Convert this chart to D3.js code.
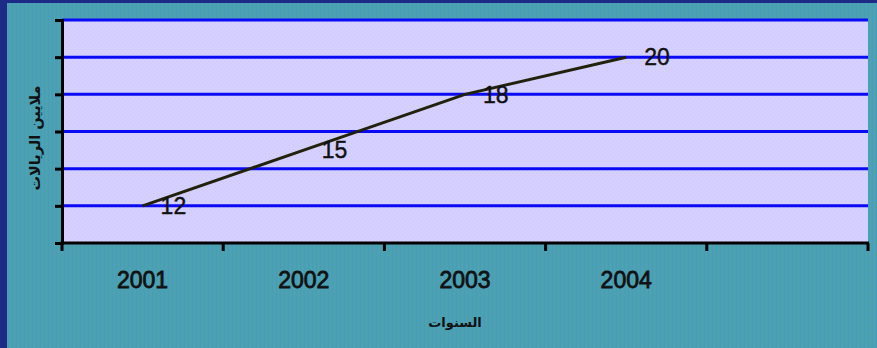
<!DOCTYPE html>
<html>
<head>
<meta charset="utf-8">
<script src="https://cdn.jsdelivr.net/npm/d3@7"></script>
<style>
  html, body { margin: 0; padding: 0; background: #4b9fb3; }
  svg { display: block; }
</style>
</head>
<body>
<svg id="chart" width="877" height="348"></svg>
<script>
// Revenue per year (millions of riyals)
const years = ["2001", "2002", "2003", "2004", ""];
const revenue = [12, 15, 18, 20];
const yTicks = [10, 12, 14, 16, 18, 20, 22];
const xTitle = "السنوات";
const yTitle = "ملايين الريالات";

const W = 877, H = 348;
const plot = { left: 62, right: 868, top: 20, bottom: 243 };

const svg = d3.select("#chart");

// dithered-looking teal backdrop
const defs = svg.append("defs");
const bgPat = defs.append("pattern").attr("id", "bgDither")
  .attr("width", 4).attr("height", 4).attr("patternUnits", "userSpaceOnUse");
bgPat.append("rect").attr("width", 4).attr("height", 4).attr("fill", "#4ba0b4");
bgPat.append("rect").attr("x", 0).attr("y", 0).attr("width", 1).attr("height", 1).attr("fill", "#3f9cc2");
bgPat.append("rect").attr("x", 2).attr("y", 2).attr("width", 1).attr("height", 1).attr("fill", "#5aa3a3");
bgPat.append("rect").attr("x", 2).attr("y", 0).attr("width", 1).attr("height", 1).attr("fill", "#56a4ac");
bgPat.append("rect").attr("x", 0).attr("y", 2).attr("width", 1).attr("height", 1).attr("fill", "#429bbb");

const plotPat = defs.append("pattern").attr("id", "plotDither")
  .attr("width", 4).attr("height", 4).attr("patternUnits", "userSpaceOnUse");
plotPat.append("rect").attr("width", 4).attr("height", 4).attr("fill", "#d3d2fe");
plotPat.append("rect").attr("x", 1).attr("y", 1).attr("width", 1).attr("height", 1).attr("fill", "#e0b8fa");
plotPat.append("rect").attr("x", 3).attr("y", 3).attr("width", 1).attr("height", 1).attr("fill", "#dcc0fb");

svg.append("rect").attr("width", W).attr("height", H).attr("fill", "url(#bgDither)");
// frame edges
svg.append("rect").attr("x", 0).attr("y", 0).attr("width", 7).attr("height", H).attr("fill", "#1d2b86");
svg.append("rect").attr("x", 0).attr("y", 0).attr("width", W).attr("height", 3).attr("fill", "#1d2b86");

const x = d3.scaleBand().domain(years).range([plot.left, plot.right]).padding(0);
const y = d3.scaleLinear().domain([10, 22]).range([plot.bottom, plot.top]);

// plot area
svg.append("rect")
  .attr("x", plot.left).attr("y", plot.top)
  .attr("width", plot.right - plot.left).attr("height", plot.bottom - plot.top)
  .attr("fill", "url(#plotDither)");

// horizontal gridlines
svg.append("g").selectAll("line")
  .data(yTicks.filter(v => v > 10))
  .join("line")
  .attr("x1", plot.left).attr("x2", plot.right)
  .attr("y1", d => y(d)).attr("y2", d => y(d))
  .attr("stroke", "#0a0af5").attr("stroke-width", 3);

// y axis (no labels)
const yAxis = svg.append("g")
  .attr("transform", `translate(${plot.left},0)`)
  .call(d3.axisLeft(y).tickValues(yTicks).tickSize(7).tickFormat(""));
yAxis.select(".domain").attr("stroke", "#000").attr("stroke-width", 3);
yAxis.selectAll(".tick line").attr("stroke", "#000").attr("stroke-width", 3);

// x axis: ticks at band boundaries
const boundaries = years.map(d => x(d)).concat([plot.right]);
const xAxisG = svg.append("g");
xAxisG.append("line")
  .attr("x1", plot.left - 1.5).attr("x2", plot.right + 1)
  .attr("y1", plot.bottom).attr("y2", plot.bottom)
  .attr("stroke", "#000").attr("stroke-width", 3);
xAxisG.selectAll("line.tk")
  .data(boundaries)
  .join("line").attr("class", "tk")
  .attr("x1", d => d).attr("x2", d => d)
  .attr("y1", plot.bottom).attr("y2", plot.bottom + 8)
  .attr("stroke", "#000").attr("stroke-width", 3);

// year labels
svg.append("g").selectAll("text")
  .data(years.filter(d => d !== ""))
  .join("text")
  .attr("x", d => x(d) + x.bandwidth() / 2)
  .attr("y", 288)
  .attr("text-anchor", "middle")
  .attr("font-family", "Liberation Sans, Arial, sans-serif")
  .attr("font-size", 23)
  .attr("fill", "#111")
  .attr("stroke", "#111").attr("stroke-width", 0.8)
  .text(d => d);

// revenue line
const pts = revenue.map((v, i) => [x(years[i]) + x.bandwidth() / 2, y(v)]);
svg.append("path")
  .attr("d", d3.line()(pts))
  .attr("fill", "none")
  .attr("stroke", "#22220c")
  .attr("stroke-width", 3);

// value labels
svg.append("g").selectAll("text")
  .data(revenue)
  .join("text")
  .attr("x", (d, i) => pts[i][0] + 18)
  .attr("y", (d, i) => pts[i][1])
  .attr("dy", "0.36em")
  .attr("font-family", "Liberation Sans, Arial, sans-serif")
  .attr("font-size", 23)
  .attr("fill", "#111")
  .attr("stroke", "#111").attr("stroke-width", 0.4)
  .text(d => d);

// axis titles
svg.append("text")
  .attr("x", 455).attr("y", 327)
  .attr("text-anchor", "middle")
  .attr("font-family", "DejaVu Sans, sans-serif")
  .attr("font-weight", "bold")
  .attr("font-size", 13)
  .attr("fill", "#111")
  .text(xTitle);

svg.append("text")
  .attr("transform", "translate(35,138) rotate(-90)")
  .attr("text-anchor", "middle")
  .attr("dy", "0.35em")
  .attr("font-family", "DejaVu Sans, sans-serif")
  .attr("font-weight", "bold")
  .attr("font-size", 14.5)
  .attr("fill", "#111")
  .text(yTitle);
</script>
</body>
</html>
